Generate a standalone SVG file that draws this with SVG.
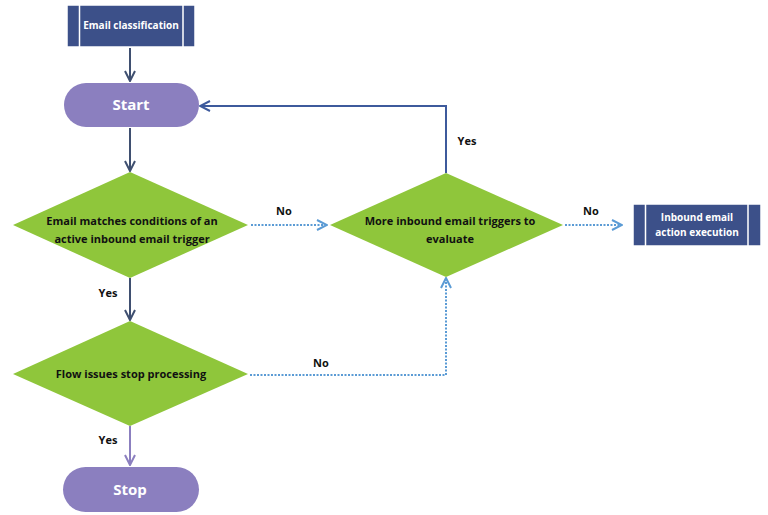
<svg xmlns="http://www.w3.org/2000/svg" width="768" height="515" viewBox="0 0 768 515">
<defs>
<style>
.box{fill:#3c5089;stroke:#ffffff;stroke-width:1.5}
.pill{fill:#8b7fbf}
.dia{fill:#8fc63b}
.t{font-family:"Open Sans","Liberation Sans",sans-serif;font-weight:700;text-anchor:middle}
.wt{fill:#ffffff}
.bt{fill:#111111;font-size:11px}
.lbl{fill:#111111;font-size:11px;font-family:"Open Sans","Liberation Sans",sans-serif;font-weight:700;text-anchor:middle}
.solid{fill:none;stroke:#3f4f70;stroke-width:2}
.loop{fill:none;stroke:#3d5a9c;stroke-width:2}
.purp{fill:none;stroke:#8b7fbf;stroke-width:2}
.dot{fill:none;stroke:#5b9bd5;stroke-width:2;stroke-dasharray:2 1.5}
</style>
<marker id="aS" viewBox="0 0 12 12" refX="11" refY="6" markerWidth="12" markerHeight="12" markerUnits="userSpaceOnUse" orient="auto"><path d="M1,1 L11,6 L1,11" fill="none" stroke="#3f4f70" stroke-width="2"/></marker>
<marker id="aL" viewBox="0 0 12 12" refX="11" refY="6" markerWidth="12" markerHeight="12" markerUnits="userSpaceOnUse" orient="auto"><path d="M1,1 L11,6 L1,11" fill="none" stroke="#3d5a9c" stroke-width="2"/></marker>
<marker id="aP" viewBox="0 0 12 12" refX="11" refY="6" markerWidth="12" markerHeight="12" markerUnits="userSpaceOnUse" orient="auto"><path d="M1,1 L11,6 L1,11" fill="none" stroke="#8b7fbf" stroke-width="2"/></marker>
<marker id="aD" viewBox="0 0 12 12" refX="11" refY="6" markerWidth="12" markerHeight="12" markerUnits="userSpaceOnUse" orient="auto"><path d="M1,1 L11,6 L1,11" fill="none" stroke="#5b9bd5" stroke-width="2"/></marker>
</defs>
<rect width="768" height="515" fill="#ffffff"/>
<g id="connectors">
<path class="solid" d="M130,48 V81" marker-end="url(#aS)"/>
<path class="solid" d="M130,128 V171" marker-end="url(#aS)"/>
<path class="solid" d="M130,278 V320" marker-end="url(#aS)"/>
<path class="purp" d="M130,426 V465" marker-end="url(#aP)"/>
<path class="loop" d="M446,173 V106 H200" marker-end="url(#aL)"/>
<path class="dot" d="M251,225 H327" marker-end="url(#aD)"/>
<path class="dot" d="M565,225 H622" marker-end="url(#aD)"/>
<path class="dot" d="M250,375 H446 V278" marker-end="url(#aD)"/>
<text class="lbl" x="284" y="215">No</text>
<text class="lbl" x="467" y="145">Yes</text>
<text class="lbl" x="591" y="215">No</text>
<text class="lbl" x="108" y="297">Yes</text>
<text class="lbl" x="321" y="367">No</text>
<text class="lbl" x="108" y="444">Yes</text>
</g>
<g id="email-classification">
<rect class="box" x="67" y="5" width="128" height="42"/>
<path d="M79.5,5 V47 M183,5 V47" stroke="#ffffff" stroke-width="1.5"/>
<text class="t wt" x="131" y="29" font-size="10">Email classification</text>
</g>
<g id="start">
<rect class="pill" x="64" y="83" width="135" height="44" rx="22"/>
<text class="t wt" x="131" y="110" font-size="15">Start</text>
</g>
<g id="decision-match">
<polygon class="dia" points="130,172 248,225 130,278 13,225"/>
<text class="t bt" x="132" y="225">Email matches conditions of an</text>
<text class="t bt" x="132" y="243">active inbound email trigger</text>
</g>
<g id="decision-more">
<polygon class="dia" points="446,173 563,225 446,277 330,225"/>
<text class="t bt" x="450" y="225">More inbound email triggers to</text>
<text class="t bt" x="450" y="243">evaluate</text>
</g>
<g id="inbound-action">
<rect class="box" x="633" y="204" width="128" height="42"/>
<path d="M645.5,204 V246 M748,204 V246" stroke="#ffffff" stroke-width="1.5"/>
<text class="t wt" x="697" y="221" font-size="10">Inbound email</text>
<text class="t wt" x="697" y="236" font-size="10">action execution</text>
</g>
<g id="decision-stop">
<polygon class="dia" points="130,321 248,374 130,426 13,374"/>
<text class="t bt" x="131" y="378">Flow issues stop processing</text>
</g>
<g id="stop">
<rect class="pill" x="63" y="467" width="136" height="45" rx="22.5"/>
<text class="t wt" x="130" y="495" font-size="15">Stop</text>
</g>
</svg>
